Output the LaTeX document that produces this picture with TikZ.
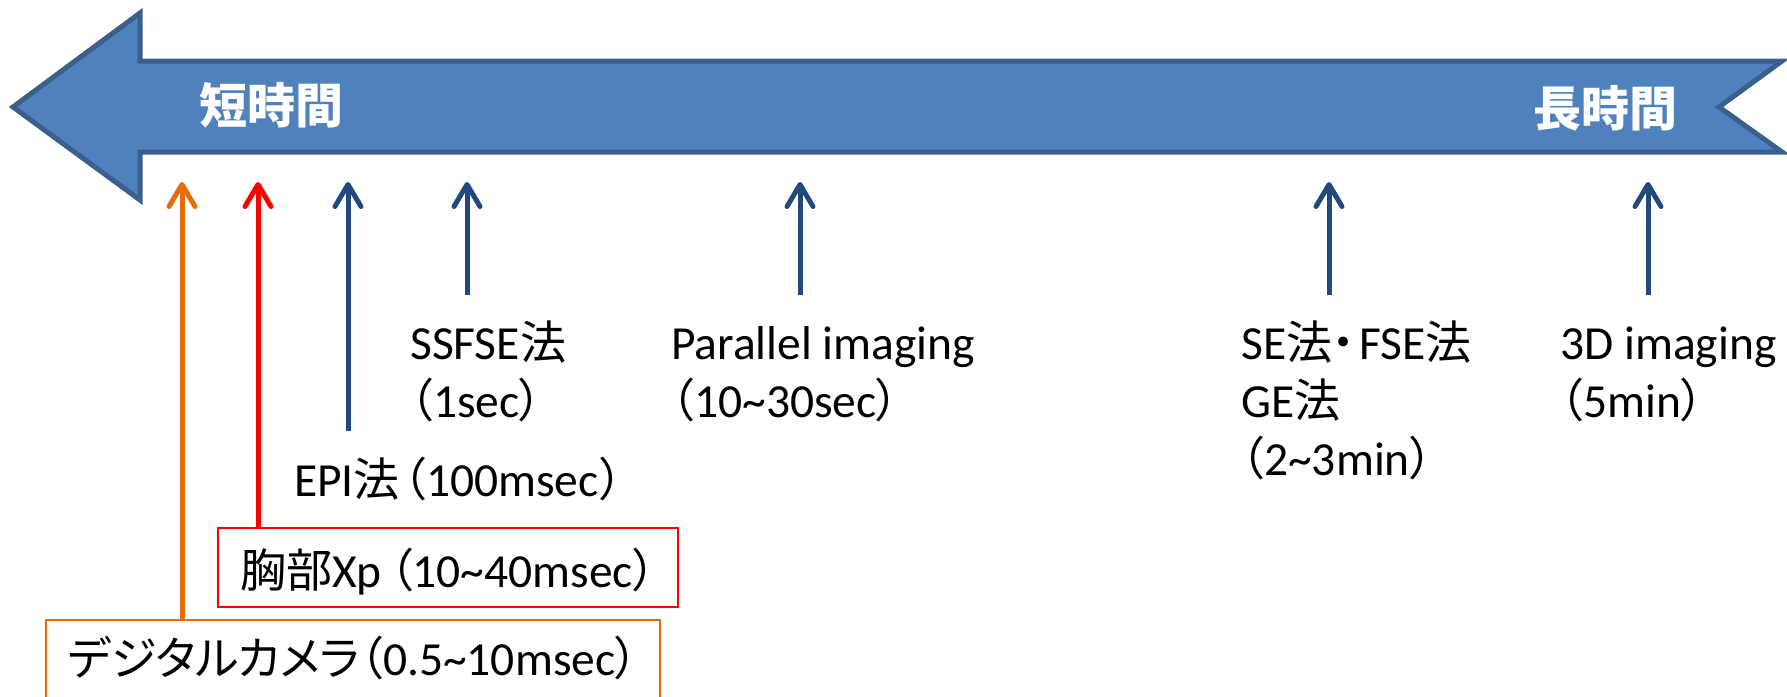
\documentclass[tikz,border=0pt]{standalone}
\usepackage{fontspec}
\setmainfont{Carlito}
\newfontfamily\jp[RawFeature=+palt, Scale=0.97]{Noto Sans CJK JP}
\newfontfamily\jpfull{Noto Sans CJK JP}
\usetikzlibrary{arrows.meta}
\definecolor{bigfill}{HTML}{4F81BD}
\definecolor{bigline}{HTML}{3A5F8B}
\definecolor{darkblue}{HTML}{22497E}
\definecolor{orng}{HTML}{E46C0A}
\definecolor{rd}{HTML}{FF0000}
\newcommand{\J}[1]{{\jp #1}}
\begin{document}
\begin{tikzpicture}[x=1pt,y=-1pt,
  font=\fontsize{47.5pt}{58pt}\selectfont,
  lbl/.style={anchor=base west, inner sep=0pt},
  tick/.style={line width=5pt, -{Straight Barb[length=22pt,width=26pt,round]}},
  bigtxt/.style={white, font=\fontsize{48pt}{58pt}\selectfont\jpfull\bfseries, inner sep=0pt},
  tbox/.style={line width=2pt, anchor=north west, outer sep=0pt, inner xsep=22pt, inner ysep=0pt, align=left}]
\useasboundingbox (0,0) rectangle (1787,696);

% big time arrow
\draw[fill=bigfill, draw=bigline, line width=5pt]
  (13,107) -- (140,13) -- (140,61) -- (1782,61) -- (1719,107) -- (1782,152)
  -- (140,152) -- (140,200) -- cycle;
\node[bigtxt] (short) at (271,105) {短時間};
\node[bigtxt] (long) at (1605,108) {長時間};

% labels
\node[lbl] (ssfseA) at (410,359) {SSFSE\J{法}};
\node[lbl] (ssfseB) at (410,417) {\J{（}1sec\J{）}};
\node[lbl] (parA) at (671,359) {Parallel imaging};
\node[lbl] (parB) at (671,417) {\J{（}10\textasciitilde30sec\J{）}};
\node[lbl] (seA) at (1241,359) {SE\J{法・}\kern4pt FSE\J{法}};
\node[lbl] (seB) at (1241,417) {GE\J{法}};
\node[lbl] (seC) at (1241,475) {\J{（}2\textasciitilde3min\J{）}};
\node[lbl] (tdA) at (1560,359) {3D imaging};
\node[lbl] (tdB) at (1560,417) {\J{（}5min\J{）}};
\node[lbl] (epi) at (294,496) {EPI\J{法}\kern3pt\J{（}100msec\kern2pt\J{）}};

\node[tbox, draw=rd, text width=416pt, text height=59pt, text depth=20pt] (xp) at (218,528)
  {\J{胸部}Xp\kern8pt\J{（}10\textasciitilde40msec\J{）}};
\node[tbox, draw=orng, text width=570pt, text height=55pt, text depth=32pt] (cam) at (46,620)
  {\J{デジタルカメラ（}0.5\textasciitilde10msec\J{）}};

% arrow tips and free ends
\coordinate (tO) at (182,182);
\coordinate (tR) at (258,182);
\coordinate (tE) at (348,182);
\coordinate (bE) at (348,431);
\coordinate (tS) at (467,182);
\coordinate (bS) at (467,295);
\coordinate (tP) at (800,182);
\coordinate (bP) at (800,295);
\coordinate (tG) at (1329,182);
\coordinate (bG) at (1329,295);
\coordinate (tD) at (1648,182);
\coordinate (bD) at (1648,295);

\draw[tick, orng] (cam.north -| tO) -- (tO);
\draw[tick, rd] (xp.north -| tR) -- (tR);
\draw[tick, darkblue] (bE) -- (tE);
\draw[tick, darkblue] (bS) -- (tS);
\draw[tick, darkblue] (bP) -- (tP);
\draw[tick, darkblue] (bG) -- (tG);
\draw[tick, darkblue] (bD) -- (tD);
\end{tikzpicture}
\end{document}
